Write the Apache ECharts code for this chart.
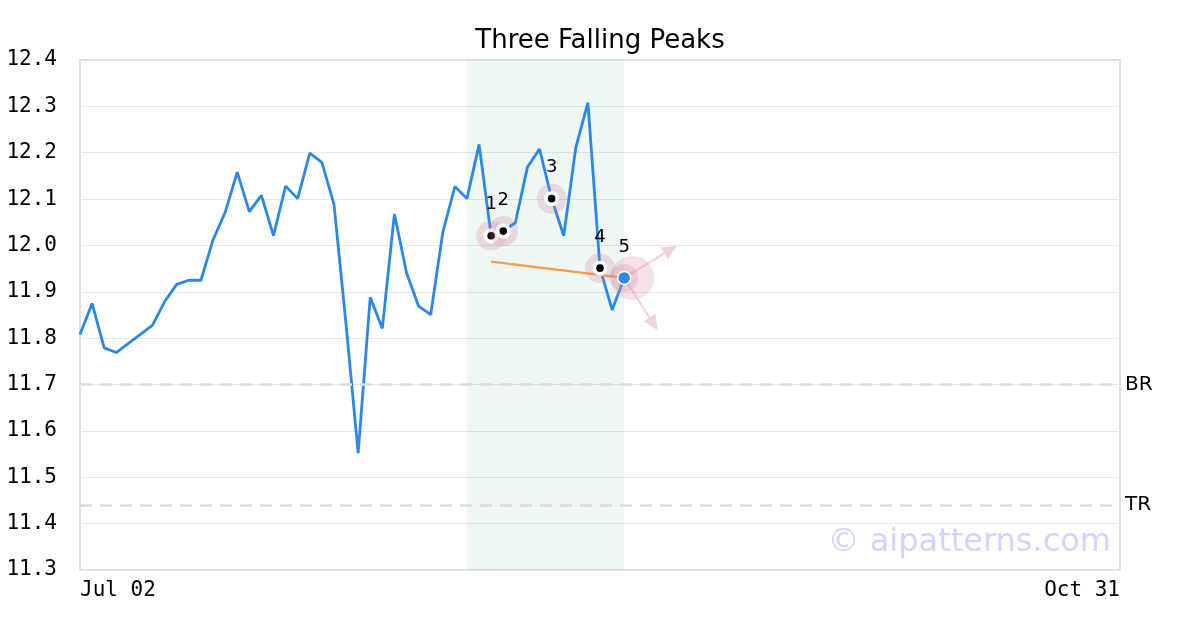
<!DOCTYPE html>
<html>
<head>
<meta charset="utf-8">
<script src="https://cdn.jsdelivr.net/npm/echarts@6/dist/echarts.min.js"></script>
<style>
html,body{margin:0;padding:0;background:#fff;}
#chart{width:1200px;height:630px;}
</style>
</head>
<body>
<div id="chart"></div>
<script>
// ---- data ----
const categories = [
 '2024-07-02','2024-07-03','2024-07-05','2024-07-08','2024-07-09','2024-07-10','2024-07-11','2024-07-12',
 '2024-07-15','2024-07-16','2024-07-17','2024-07-18','2024-07-19','2024-07-22','2024-07-23','2024-07-24',
 '2024-07-25','2024-07-26','2024-07-29','2024-07-30','2024-07-31',
 '2024-08-01','2024-08-02','2024-08-05','2024-08-06','2024-08-07','2024-08-08','2024-08-09','2024-08-12',
 '2024-08-13','2024-08-14','2024-08-15','2024-08-16','2024-08-19','2024-08-20','2024-08-21','2024-08-22',
 '2024-08-23','2024-08-26','2024-08-27','2024-08-28','2024-08-29','2024-08-30',
 '2024-09-02','2024-09-03','2024-09-04','2024-09-05','2024-09-06','2024-09-09','2024-09-10','2024-09-11',
 '2024-09-12','2024-09-13','2024-09-16','2024-09-17','2024-09-18','2024-09-19','2024-09-20','2024-09-23',
 '2024-09-24','2024-09-25','2024-09-26','2024-09-27','2024-09-30',
 '2024-10-01','2024-10-02','2024-10-03','2024-10-04','2024-10-07','2024-10-08','2024-10-09','2024-10-10',
 '2024-10-11','2024-10-14','2024-10-15','2024-10-16','2024-10-17','2024-10-18','2024-10-21','2024-10-22',
 '2024-10-23','2024-10-24','2024-10-25','2024-10-28','2024-10-29','2024-10-30','2024-10-31'
];
const closeValues = [
 11.808, 11.875, 11.779, 11.769, 11.789, 11.808, 11.828, 11.879, 11.916, 11.925,
 11.925, 12.012, 12.071, 12.158, 12.073, 12.108, 12.021, 12.128, 12.101, 12.199,
 12.179, 12.089, 11.830, 11.552, 11.888, 11.821, 12.068, 11.941, 11.869, 11.851,
 12.028, 12.127, 12.101, 12.218, 12.021, 12.031, 12.049, 12.169, 12.208, 12.101,
 12.021, 12.211, 12.308, 11.951, 11.861, 11.930
];
const patternIndex = [34, 35, 39, 43, 45];
const patternLabels = ['1', '2', '3', '4', '5'];
const shadeRange = [32, 45];
const trendLine = [[34, 11.965], [45, 11.930]];
const levelLines = [{ name: 'BR', value: 11.7 }, { name: 'TR', value: 11.436 }];
const yTicks = { min: 11.3, max: 12.4, step: 0.1 };
const titleText = 'Three Falling Peaks';
const watermark = '\u00a9 aipatterns.com';

// ---- chart ----
const months = ['Jan','Feb','Mar','Apr','May','Jun','Jul','Aug','Sep','Oct','Nov','Dec'];
function fmtDate(s) { const p = s.split('-'); return months[+p[1] - 1] + ' ' + p[2]; }

const seriesData = categories.map((c, i) => i < closeValues.length ? closeValues[i] : null);
const markerData = patternIndex.map((idx, k) => [idx, closeValues[idx], patternLabels[k], k === patternIndex.length - 1 ? 1 : 0]);

const pink = 'rgba(205,120,150,0.22)';
const arrowPink = 'rgba(220,140,165,0.38)';

function arrow(x, y, angDeg, len) {
  const a = angDeg * Math.PI / 180;
  const tx = x + Math.cos(a) * len, ty = y + Math.sin(a) * len;
  const head = 15, hw = 7;
  const bx = tx - Math.cos(a) * head, by = ty - Math.sin(a) * head;
  const nx = -Math.sin(a), ny = Math.cos(a);
  return [
    { type: 'line', shape: { x1: x, y1: y, x2: bx, y2: by }, style: { stroke: arrowPink, lineWidth: 2 } },
    { type: 'polygon', shape: { points: [[tx, ty], [bx + nx * hw, by + ny * hw], [bx - nx * hw, by - ny * hw]] }, style: { fill: arrowPink } }
  ];
}

const chart = echarts.init(document.getElementById('chart'), null, { renderer: 'canvas' });
chart.setOption({
  animation: false,
  backgroundColor: '#ffffff',
  title: {
    text: titleText, left: 'center', top: 23,
    textStyle: { fontFamily: 'DejaVu Sans', fontSize: 26, fontWeight: 'normal', color: '#000' }
  },
  grid: { left: 80, right: 80, top: 60, bottom: 60, show: true, borderColor: '#dedede', borderWidth: 2, containLabel: false },
  xAxis: {
    type: 'category', data: categories, boundaryGap: false,
    axisLine: { show: false }, axisTick: { show: false }, splitLine: { show: false },
    axisLabel: {
      interval: (i) => i === 0 || i === categories.length - 1,
      formatter: fmtDate, fontFamily: 'DejaVu Sans Mono', fontSize: 21, color: '#000', margin: 10,
      alignMinLabel: 'left', alignMaxLabel: 'right', showMinLabel: true, showMaxLabel: true
    }
  },
  yAxis: {
    type: 'value', min: yTicks.min, max: yTicks.max, interval: yTicks.step,
    axisLine: { show: false }, axisTick: { show: false },
    splitLine: { show: true, lineStyle: { color: '#e8e8e8', width: 1 } },
    axisLabel: { formatter: (v) => v.toFixed(1), fontFamily: 'DejaVu Sans Mono', fontSize: 21, color: '#000', margin: 23 }
  },
  graphic: [{
    type: 'text', right: 89, top: 527, z: 100,
    style: { text: watermark, font: '32px "DejaVu Sans"', fill: 'rgba(150,150,255,0.42)' }
  }],
  series: [
    {
      type: 'line', data: seriesData, showSymbol: false, symbol: 'none',
      lineStyle: { color: '#2b87e8', width: 2.8 }, itemStyle: { color: '#2b87e8' }, z: 3,
      markArea: {
        silent: true, itemStyle: { color: 'rgba(0,140,90,0.065)' },
        data: [[{ xAxis: shadeRange[0] }, { xAxis: shadeRange[1] }]]
      },
      markLine: {
        silent: true, symbol: 'none',
        lineStyle: { color: '#dddddd', type: [12, 8], width: 2.5 },
        label: { position: 'end', formatter: '{b}', color: '#000', fontFamily: 'DejaVu Sans', fontSize: 20, distance: 5 },
        data: levelLines.map(l => ({ name: l.name, yAxis: l.value }))
      }
    },
    {
      type: 'line', data: trendLine, showSymbol: false, symbol: 'none',
      lineStyle: { color: '#fa9b45', width: 2.2 }, z: 4
    },
    {
      type: 'custom', z: 5, data: markerData,
      encode: { x: 0, y: 1 },
      renderItem: function (params, api) {
        const p = api.coord([api.value(0), api.value(1)]);
        const x = p[0], y = p[1];
        const lab = markerData[params.dataIndex][2];
        const isLast = markerData[params.dataIndex][3] === 1;
        const children = [];
        if (isLast) {
          children.push({ type: 'circle', shape: { cx: x + 8, cy: y, r: 22 }, style: { fill: 'rgba(225,150,170,0.28)' } });
          children.push({ type: 'circle', shape: { cx: x, cy: y, r: 14 }, style: { fill: pink } });
          children.push(...arrow(x, y, -31.5, 62));
          children.push(...arrow(x, y, 57.5, 62));
          children.push({ type: 'circle', shape: { cx: x, cy: y, r: 6.5 }, style: { fill: '#2b87e8', stroke: '#fff', lineWidth: 1.5 } });
        } else {
          children.push({ type: 'circle', shape: { cx: x, cy: y, r: 15 }, style: { fill: pink } });
          children.push({ type: 'circle', shape: { cx: x, cy: y, r: 7.5 }, style: { fill: '#fff' } });
          children.push({ type: 'circle', shape: { cx: x, cy: y, r: 3.8 }, style: { fill: '#000' } });
        }
        children.push({ type: 'text', style: { x: x, y: y - 31, text: lab, align: 'center', verticalAlign: 'middle', font: '18px "DejaVu Sans"', fill: '#000' } });
        return { type: 'group', children: children };
      }
    }
  ]
});
</script>
</body>
</html>
